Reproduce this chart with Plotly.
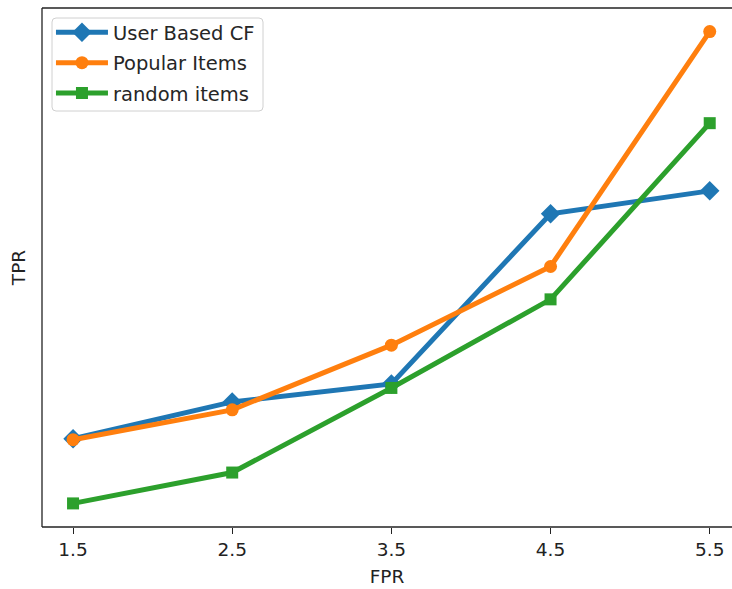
import plotly.graph_objects as go

fpr = [1.5, 2.5, 3.5, 4.5, 5.5]
user_cf = [0.088, 0.125, 0.143, 0.314, 0.337]
popular = [0.087, 0.117, 0.182, 0.261, 0.497]
random_items = [0.023, 0.054, 0.139, 0.228, 0.405]
tick_labels = ["1.5", "2.5", "3.5", "4.5", "5.5"]

fig = go.Figure()
fig.add_trace(go.Scatter(x=fpr, y=user_cf, mode="lines+markers", name="User Based CF",
                         legendgroup="a",
                         line=dict(color="#1f77b4", width=5),
                         marker=dict(symbol="diamond", size=15, color="#1f77b4")))
fig.add_trace(go.Scatter(x=fpr, y=popular, mode="lines+markers", name="Popular Items",
                         legendgroup="b",
                         line=dict(color="#ff7f0e", width=5),
                         marker=dict(symbol="circle", size=13, color="#ff7f0e")))
fig.add_trace(go.Scatter(x=fpr, y=random_items, mode="lines+markers", name="random items",
                         legendgroup="c",
                         line=dict(color="#2ca02c", width=5),
                         marker=dict(symbol="square", size=12, color="#2ca02c")))

# legend frame (rounded box) in paper coordinates
W, H = 690.0, 519.0
bx0, bx1 = 10 / W, 221 / W
by0, by1 = 1 - 103 / H, 1 - 10 / H
rx, ry = 4 / W, 4 / H
box_path = (f"M {bx0+rx},{by1} L {bx1-rx},{by1} Q {bx1},{by1} {bx1},{by1-ry} "
            f"L {bx1},{by0+ry} Q {bx1},{by0} {bx1-rx},{by0} "
            f"L {bx0+rx},{by0} Q {bx0},{by0} {bx0},{by0+ry} "
            f"L {bx0},{by1-ry} Q {bx0},{by1} {bx0+rx},{by1} Z")

fig.update_layout(
    width=732, height=589,
    margin=dict(l=42, r=0, t=8, b=62),
    paper_bgcolor="white", plot_bgcolor="white",
    font=dict(family="DejaVu Sans", size=18, color="#222"),
    showlegend=True,
    legend=dict(x=0.013, y=0.990, xanchor="left", yanchor="top",
                bgcolor="rgba(0,0,0,0)", borderwidth=0,
                font=dict(size=19.5, color="#262626"), itemwidth=52, tracegroupgap=2),
    xaxis=dict(range=[1.305, 5.64], tickvals=fpr, ticktext=tick_labels,
               showgrid=False, zeroline=False, showline=False,
               ticks="outside", ticklen=6, tickcolor="#222", tickwidth=1.2,
               tickfont=dict(size=18.5),
               title=dict(text="FPR", font=dict(size=18.5), standoff=10)),
    yaxis=dict(range=[-0.0007, 0.5207], showticklabels=False, ticks="",
               showgrid=False, zeroline=False, showline=False,
               title=dict(text="TPR", font=dict(size=18.5), standoff=10)),
    shapes=[
        dict(type="path", xref="paper", yref="paper", path=box_path,
             fillcolor="rgba(255,255,255,0.8)", line=dict(color="#d0d0d0", width=1),
             layer="above"),
        dict(type="line", xref="paper", yref="paper", x0=0, x1=0, y0=0, y1=1,
             line=dict(color="#222", width=1.3)),
        dict(type="line", xref="paper", yref="paper", x0=0, x1=1, y0=0, y1=0,
             line=dict(color="#222", width=1.3)),
        dict(type="line", xref="paper", yref="paper", x0=0, x1=1, y0=1, y1=1,
             line=dict(color="#222", width=1.3)),
    ],
)

fig.write_html("out.html")
